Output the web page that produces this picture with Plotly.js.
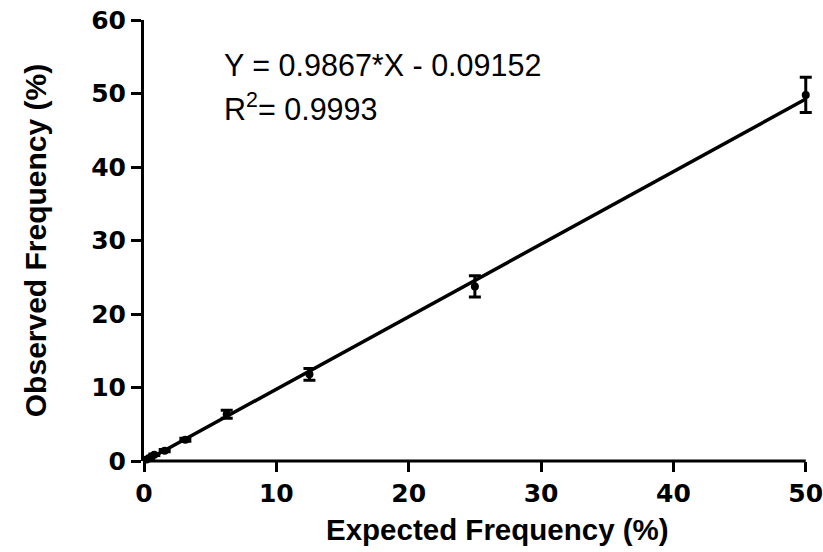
<!DOCTYPE html>
<html>
<head>
<meta charset="utf-8">
<script src="https://cdn.plot.ly/plotly-3.0.1.min.js"></script>
<style>html,body{margin:0;padding:0;background:#fff;}#chart{width:823px;height:552px;}</style>
</head>
<body>
<div id="chart"></div>
<script>
// Data
const expected = [0.195, 0.39, 0.78, 1.5625, 3.125, 6.25, 12.5, 25, 50];
const observed = [0.2, 0.4, 0.85, 1.4, 2.9, 6.35, 11.8, 23.75, 49.8];
const errors   = [0.05, 0.05, 0.1, 0.15, 0.2, 0.55, 0.8, 1.45, 2.4];
const fitX = [0, 50];
const fitY = [-0.09, 49.24];
const xTicks = [0, 10, 20, 30, 40, 50];
const yTicks = [0, 10, 20, 30, 40, 50, 60];

const font = 'Liberation Sans, Arial, sans-serif';
const tickFont = {family: 'DejaVu Sans, Liberation Sans, sans-serif', size: 25, color: '#000', weight: 'bold'};

const traces = [
  {
    x: fitX, y: fitY, mode: 'lines', type: 'scatter',
    line: {color: '#000', width: 3.5}, hoverinfo: 'skip', cliponaxis: false
  },
  {
    x: expected, y: observed, mode: 'markers', type: 'scatter',
    marker: {color: '#000', size: 8, symbol: 'circle'},
    error_y: {type: 'data', array: errors, visible: true, color: '#000', thickness: 3, width: 6},
    cliponaxis: false
  }
];

const layout = {
  width: 823, height: 552,
  margin: {l: 144, r: 4, t: 20, b: 91},
  paper_bgcolor: '#fff', plot_bgcolor: '#fff',
  showlegend: false,
  font: {family: font, color: '#000'},
  xaxis: {
    range: [0, 51], tickvals: xTicks, ticktext: xTicks.map(String),
    showgrid: false, zeroline: false, showline: false,
    ticks: 'outside', ticklen: 10, tickwidth: 3, tickcolor: '#000',
    tickfont: tickFont, ticklabeloverflow: 'allow'
  },
  yaxis: {
    range: [0, 60], tickvals: yTicks, ticktext: yTicks.map(String),
    showgrid: false, zeroline: false, showline: true, linecolor: '#000', linewidth: 3,
    ticks: 'outside', ticklen: 10, tickwidth: 3, tickcolor: '#000',
    tickfont: tickFont,
    title: {text: '<b>Observed Frequency (%)</b>', font: {family: font, size: 30, color: '#000'}, standoff: 36}
  },
  shapes: [
    {type: 'line', xref: 'x', yref: 'paper', x0: xTicks[0], x1: xTicks[xTicks.length - 1], y0: 0, y1: 0,
     line: {color: '#000', width: 3}}
  ],
  annotations: [
    {xref: 'paper', yref: 'paper', x: 0.524, y: -0.156, xanchor: 'center', yanchor: 'middle',
     text: '<b>Expected Frequency (%)</b>', showarrow: false, font: {family: font, size: 29.5, color: '#000'}},
    {xref: 'paper', yref: 'paper', x: 0.115, y: 0.899, xanchor: 'left', yanchor: 'middle',
     text: 'Y = 0.9867*X - 0.09152', showarrow: false, font: {family: font, size: 30.5, color: '#000'}},
    {xref: 'paper', yref: 'paper', x: 0.115, y: 0.803, xanchor: 'left', yanchor: 'middle',
     text: 'R<sup>2</sup>= 0.9993', showarrow: false, font: {family: font, size: 30.5, color: '#000'}}
  ]
};

Plotly.newPlot('chart', traces, layout, {displayModeBar: false, staticPlot: true});
</script>
</body>
</html>
